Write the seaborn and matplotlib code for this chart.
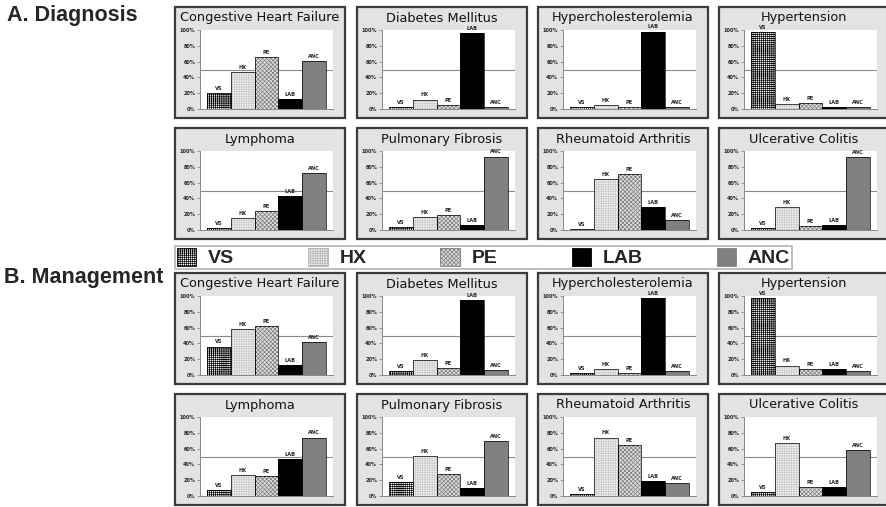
import numpy as np
import pandas as pd
import matplotlib.pyplot as plt
import seaborn as sns
from matplotlib.patches import Rectangle, Patch

# categories
sources = ["VS", "HX", "PE", "LAB", "ANC"]
diseases = ["Congestive Heart Failure", "Diabetes Mellitus", "Hypercholesterolemia", "Hypertension",
            "Lymphoma", "Pulmonary Fibrosis", "Rheumatoid Arthritis", "Ulcerative Colitis"]

# A. Diagnosis (fraction of cases, VS/HX/PE/LAB/ANC)
dx_chf = [0.20, 0.47, 0.66, 0.13, 0.61]
dx_dm = [0.03, 0.12, 0.05, 0.96, 0.03]
dx_hchol = [0.02, 0.05, 0.02, 0.98, 0.03]
dx_htn = [0.97, 0.06, 0.08, 0.03, 0.03]
dx_lymph = [0.02, 0.15, 0.24, 0.43, 0.72]
dx_pf = [0.04, 0.16, 0.19, 0.06, 0.93]
dx_ra = [0.01, 0.64, 0.71, 0.29, 0.13]
dx_uc = [0.02, 0.29, 0.05, 0.06, 0.92]

# B. Management
mg_chf = [0.36, 0.58, 0.62, 0.13, 0.42]
mg_dm = [0.05, 0.19, 0.09, 0.95, 0.06]
mg_hchol = [0.02, 0.08, 0.02, 0.97, 0.05]
mg_htn = [0.97, 0.12, 0.07, 0.07, 0.05]
mg_lymph = [0.07, 0.27, 0.25, 0.47, 0.74]
mg_pf = [0.18, 0.51, 0.28, 0.10, 0.69]
mg_ra = [0.03, 0.74, 0.65, 0.19, 0.16]
mg_uc = [0.05, 0.67, 0.11, 0.11, 0.58]

diagnosis = [dx_chf, dx_dm, dx_hchol, dx_htn, dx_lymph, dx_pf, dx_ra, dx_uc]
management = [mg_chf, mg_dm, mg_hchol, mg_htn, mg_lymph, mg_pf, mg_ra, mg_uc]

# bar styles: facecolor, hatch colour, hatch
styles = {
    "VS": ("white", "black", "++++++++"),
    "HX": ("#f2f2f2", "#c8c8c8", "+++++++"),
    "PE": ("#e0e0e0", "#7a7a7a", "xxxxxxxx"),
    "LAB": ("black", "black", ""),
    "ANC": ("#808080", "#808080", ""),
}

sns.set_theme(style="white")
plt.rcParams["font.family"] = ["DejaVu Sans"]
plt.rcParams["hatch.linewidth"] = 0.5

W, H = 887, 507
fig = plt.figure(figsize=(W / 100, H / 100), dpi=100)

col_x = [175, 357, 538, 719]
row_y = [7, 128, 273, 394]
pw, ph = 170, 111


def fx(px):
    return px / W


def fy(py):
    return 1 - py / H


def draw_panel(left, top, title, values):
    # gray frame
    fig.add_artist(Rectangle((fx(left), fy(top + ph)), pw / W, ph / H, transform=fig.transFigure,
                             facecolor="#e3e3e3", edgecolor="#3c3c3c", lw=1.6, zorder=-1))
    fig.text(fx(left + pw / 2), fy(top + 11), title, ha="center", va="center",
             fontsize=9.3, color="#111111")
    ax = fig.add_axes([fx(left + 25), fy(top + 102), 133 / W, 79 / H])
    ax.set_facecolor("white")
    df = pd.DataFrame({"source": sources, "value": values})
    sns.barplot(data=df, x="source", y="value", hue="source", order=sources, hue_order=sources,
                palette={s: styles[s][0] for s in sources}, width=1.0, legend=False,
                saturation=1, ax=ax, zorder=2)
    for cont, s in zip(ax.containers, sources):
        for p in cont:
            p.set_hatch(styles[s][2])
            p.set_edgecolor(styles[s][1])
            p.set_linewidth(0)
        ax.bar_label(cont, labels=[s], fontsize=3.6, fontweight="bold", padding=1.5, clip_on=False)
    # black outlines
    sns.barplot(data=df, x="source", y="value", order=sources, width=1.0, fill=False,
                color="black", linewidth=0.5, ax=ax, zorder=3)
    ax.axhline(0.5, color="#8a8a8a", lw=0.8, zorder=1)
    ax.set_ylim(0, 1)
    ax.set_xlim(-0.8, 4.8)
    ax.set_yticks(np.arange(0, 1.01, 0.2))
    ax.set_yticklabels([f"{int(round(v * 100))}%" for v in np.arange(0, 1.01, 0.2)],
                       fontsize=3.6, fontweight="bold")
    ax.set_xticks([])
    ax.set_xlabel("")
    ax.set_ylabel("")
    ax.tick_params(axis="y", length=2, width=0.5, pad=1.5, left=True, color="#777777")
    for side in ["top", "right"]:
        ax.spines[side].set_visible(False)
    for side in ["left", "bottom"]:
        ax.spines[side].set_color("#888888")
        ax.spines[side].set_linewidth(0.7)


for i, d in enumerate(diseases):
    draw_panel(col_x[i % 4], row_y[i // 4], d, diagnosis[i])
    draw_panel(col_x[i % 4], row_y[2 + i // 4], d, management[i])

# section headings
fig.text(fx(7), fy(16), "A. Diagnosis", fontsize=15.5, fontweight="bold",
         family=["Liberation Sans"], va="center", ha="left")
fig.text(fx(4), fy(277), "B. Management", fontsize=15.5, fontweight="bold",
         family=["Liberation Sans"], va="center", ha="left")

# legend
handles = [Patch(facecolor=styles[s][0], edgecolor=styles[s][1] if s != "HX" else "#b0b0b0",
                 hatch=styles[s][2], lw=0.6) for s in sources]
leg = fig.legend(handles, sources, loc="center", ncol=5, mode="expand",
                 bbox_to_anchor=(fx(175), fy(269), (792 - 175) / W, 23 / H),
                 bbox_transform=fig.transFigure, frameon=True, fancybox=False,
                 edgecolor="#a0a0a0", prop={"family": "Liberation Sans", "size": 14, "weight": "bold"},
                 handlelength=1.0, handleheight=1.1, handletextpad=0.6, borderpad=0.1,
                 borderaxespad=0)
leg.get_frame().set_linewidth(1.2)

fig.savefig("out.png", dpi=100)
